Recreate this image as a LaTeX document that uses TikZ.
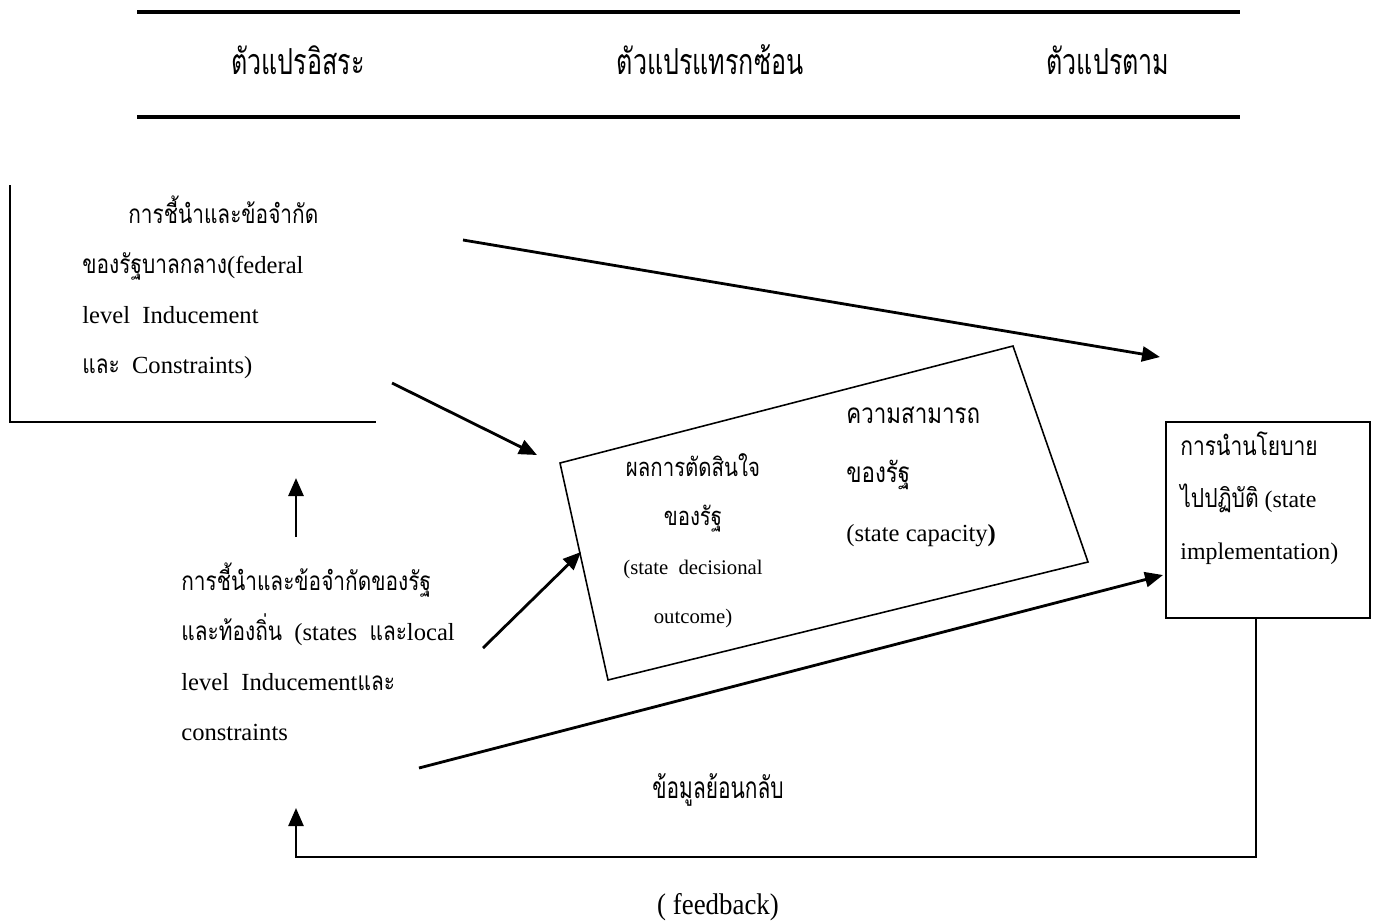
\documentclass[tikz,border=0pt]{standalone}
\usepackage{fontspec}
\usetikzlibrary{arrows.meta}
\setmainfont{Liberation Serif}
\newfontfamily\thaifont[Script=Thai,Scale=1.06,FakeStretch=0.8]{Loma}
\newfontfamily\thaicond[Script=Thai,Scale=0.85,FakeStretch=0.7]{Loma}
\newfontfamily\condserif[FakeStretch=0.9]{Liberation Serif}
\newcommand{\tw}[1]{{\thaifont #1}}

\begin{document}
\begin{tikzpicture}
[%%%%%%%%%%%%%%%%%%%%%%%%%%%%%%
x=0.02cm,y=-0.02cm,
txt/.style={anchor=west,align=left,inner sep=0pt,font=\fontsize{14}{28.4}\selectfont},
hdr/.style={inner sep=0pt,font=\fontsize{24}{28}\selectfont\thaicond},
rule/.style={line width=2.6pt},
arr/.style={line width=1.6pt,-{Triangle[length=0.36cm,width=0.3cm]}},
frame/.style={line width=1.3pt},
]%%%%%%%%%%%%%%%%%%%%%%%%%%%%%%
\useasboundingbox (0,0) rectangle (1376,920);
\foreach \y in {12,117}
\draw[rule] (137,\y) -- (1240,\y);
\node[hdr] (indep) at (298,60) {ตัวแปรอิสระ};
\node[hdr] (inter) at (710,60) {ตัวแปรแทรกซ้อน};
\node[hdr] (dep) at (1108,60) {ตัวแปรตาม};

% left side
\draw[frame] (10,185) |- (376,422);
\node[txt] (fed) at (82,287) {\hspace*{0.92cm}\tw{การชี้นำและข้อจำกัด}\\
\tw{ของรัฐบาลกลาง}(federal\\
level~~Inducement\\
\tw{และ}~~Constraints)};
\node[txt] (local) at (181,652) {\tw{การชี้นำและข้อจำกัดของรัฐ}\\
\tw{และท้องถิ่น}~~(states~~\tw{และ}local\\
level~~Inducement\tw{และ}\\
constraints};

% middle box
\coordinate (d1) at (560,463);
\coordinate (d2) at (1013,346);
\coordinate (d3) at (1088,562);
\coordinate (d4) at (608,680);
\draw[line width=0.9pt] (d1) -- (d2) -- (d3) -- (d4) -- cycle;
\node[inner sep=0pt,align=center,font=\fontsize{11.8}{27.9}\selectfont] (outc) at (693,541)
{{\fontsize{13.7}{27.9}\selectfont\tw{ผลการตัดสินใจ}}\\
{\fontsize{13.7}{27.9}\selectfont\tw{ของรัฐ}}\\
(state~~decisional\\ outcome)};
\node[txt,font=\fontsize{14}{33.6}\selectfont] (capa) at (846,477)
{{\fontsize{15}{33.6}\selectfont\tw{ความสามารถ}}\\
{\fontsize{15}{33.6}\selectfont\tw{ของรัฐ}}\\
(state capacity\textbf{)}};

% right box
\node[draw,line width=1.5pt,minimum width=4.08cm,minimum height=3.92cm] (impl) at (1268,520) {};
\node[txt,font=\fontsize{13.6}{29.6}\selectfont] (impltxt) at (1180,498)
{{\fontsize{14.1}{29.6}\selectfont\tw{การนำนโยบาย}}\\
{\fontsize{14.1}{29.6}\selectfont\tw{ไปปฏิบัติ}} (state\\ implementation)};

% arrows
\coordinate (a1s) at (463,240);
\coordinate (a1e) at (1160,357);
\coordinate (a2s) at (392,383);
\coordinate (a2e) at (537,455);
\coordinate (a3s) at (483,648);
\coordinate (a3e) at (581,552);
\coordinate (a4s) at (296,537);
\coordinate (a4e) at (296,478);
\coordinate (a5s) at (419,768);
\coordinate (a5e) at (1163,575);
\draw[arr] (a1s) -- (a1e);
\draw[arr] (a2s) -- (a2e);
\draw[arr] (a3s) -- (a3e);
\draw[arr] (a4s) -- (a4e);
\draw[arr] (a5s) -- (a5e);

% feedback
\coordinate (fbend) at (296,808);
\draw[arr,line width=1.4pt] ([xshift=-0.24cm]impl.south) |- (296,857) -- (fbend);
\node[hdr,font=\fontsize{20}{24}\selectfont\thaicond] (fbth) at (718,790) {ข้อมูลย้อนกลับ};
\node[inner sep=0pt,font=\fontsize{17}{20}\selectfont\condserif] (fben) at (718,907) {( feedback)};
\end{tikzpicture}
\end{document}
